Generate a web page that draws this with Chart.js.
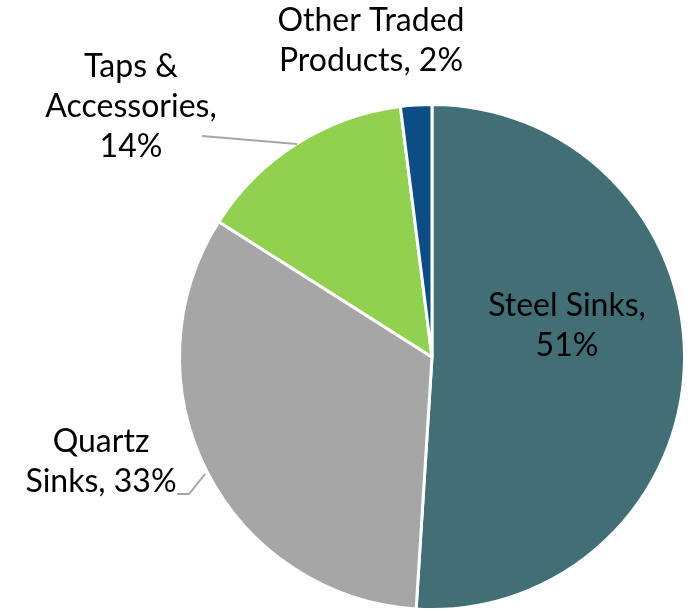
<!DOCTYPE html>
<html>
<head>
<meta charset="utf-8">
<script src="https://cdn.jsdelivr.net/npm/chart.js@4.4.0/dist/chart.umd.min.js"></script>
<style>
  html, body { margin: 0; padding: 0; background: #fff; }
  #wrap { width: 690px; height: 612px; position: relative; }
</style>
</head>
<body>
<div id="wrap"><canvas id="pie"></canvas></div>
<script>
const categories = ["Steel Sinks", "Quartz Sinks", "Taps & Accessories", "Other Traded Products"];
const shares = [51, 33, 14, 2];
const sliceColors = ["#426f75", "#a6a6a6", "#92d050", "#0c4d83"];

// label text lines + placement relative to the pie centre
const labelLines = [
  ["Steel Sinks,", "51%"],
  ["Quartz", "Sinks, 33%"],
  ["Taps &", "Accessories,", "14%"],
  ["Other Traded", "Products, 2%"]
];
const labelOffsets = [[135, -31], [-331, 105], [-301, -250], [-61, -316]];
const leaderLines = [null, [[-255, 137], [-243, 137], [-227, 117]], [[-230, -221], [-135, -213]], null];

const labelPlugin = {
  id: "sliceLabels",
  afterDatasetsDraw(chart) {
    const ctx = chart.ctx;
    const arc = chart.getDatasetMeta(0).data[0];
    const cx = arc.x, cy = arc.y;
    ctx.save();
    ctx.strokeStyle = "#a6a6a6";
    ctx.lineWidth = 2;
    leaderLines.forEach(pts => {
      if (!pts) return;
      ctx.beginPath();
      pts.forEach((p, i) => {
        if (i === 0) ctx.moveTo(cx + p[0], cy + p[1]);
        else ctx.lineTo(cx + p[0], cy + p[1]);
      });
      ctx.stroke();
    });
    ctx.fillStyle = "#000";
    ctx.font = "32px Lato";
    ctx.textAlign = "center";
    ctx.textBaseline = "middle";
    const lh = 40;
    labelLines.forEach((lines, i) => {
      const x = cx + labelOffsets[i][0];
      const y0 = cy + labelOffsets[i][1] - (lines.length - 1) * lh / 2;
      lines.forEach((t, j) => ctx.fillText(t, x, y0 + j * lh));
    });
    ctx.restore();
  }
};

new Chart(document.getElementById("pie"), {
  type: "pie",
  data: {
    labels: categories,
    datasets: [{
      data: shares,
      backgroundColor: sliceColors,
      borderColor: "#ffffff",
      borderWidth: 3
    }]
  },
  options: {
    responsive: true,
    maintainAspectRatio: false,
    animation: false,
    layout: { padding: { left: 178, right: 4, top: 103, bottom: 1 } },
    plugins: { legend: { display: false }, tooltip: { enabled: false } }
  },
  plugins: [labelPlugin]
});
</script>
</body>
</html>
